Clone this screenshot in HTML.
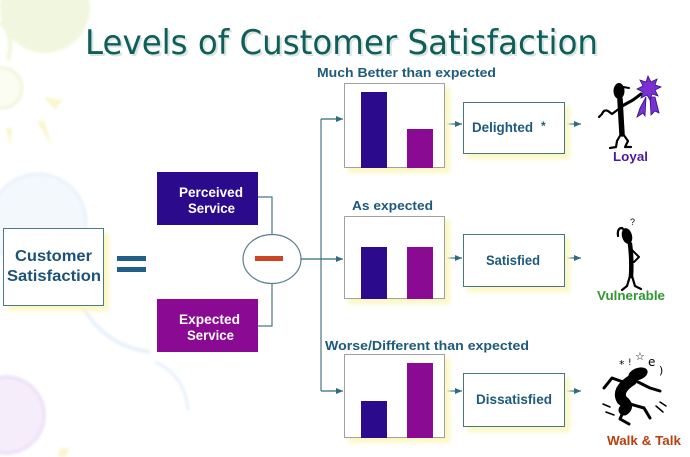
<!DOCTYPE html>
<html><head><meta charset="utf-8">
<style>html,body{margin:0;padding:0;background:#fff;}svg{display:block;}</style>
</head><body>
<svg width="690" height="457" viewBox="0 0 690 457" xmlns="http://www.w3.org/2000/svg">
<defs>
<filter id="bl" x="-20%" y="-20%" width="140%" height="140%"><feGaussianBlur stdDeviation="2.2"/></filter>
<filter id="bg" x="-30%" y="-30%" width="160%" height="160%"><feGaussianBlur stdDeviation="1.2"/></filter>
<marker id="ar" markerWidth="8" markerHeight="8" refX="7" refY="4" orient="auto" markerUnits="userSpaceOnUse"><path d="M0,1 L7,4 L0,7 z" fill="#2f6b80"/></marker>
</defs>
<rect width="690" height="457" fill="#ffffff"/>

<!-- background decorations -->
<g filter="url(#bg)">
<circle cx="45" cy="8" r="45" fill="#f1f7de"/>
<circle cx="2" cy="88" r="20" fill="#fbfdf3" stroke="#f0f6da" stroke-width="3"/>
<path d="M0,22 Q15,35 8,60" fill="none" stroke="#f0f6dc" stroke-width="4"/>
<polygon points="44,97 62,100 55,110" fill="#faf6cc"/>
<polygon points="6,128 12,128 10,147" fill="#faf6ce"/>
<polygon points="37,122 44,120 52,146" fill="#faf6ce"/>
<circle cx="38" cy="222" r="48" fill="#f3f8fd" stroke="#e9f2fb" stroke-width="3"/>
<path d="M80,300 Q100,345 150,352" fill="none" stroke="#e8f1fa" stroke-width="4"/>
<path d="M155,362 Q185,375 188,410" fill="none" stroke="#e8f1fa" stroke-width="3"/>
<circle cx="6" cy="415" r="38" fill="#f6edfb" stroke="#efe3f8" stroke-width="4"/>
<polygon points="60,448 70,448 66,457 58,457" fill="#faf6d2"/>
</g>

<!-- title -->
<text x="87" y="56" font-family="DejaVu Sans, Verdana, sans-serif" font-size="34" fill="#d9e5e3" textLength="513" lengthAdjust="spacingAndGlyphs">Levels of Customer Satisfaction</text>
<text x="85" y="54" font-family="DejaVu Sans, Verdana, sans-serif" font-size="34" fill="#0f5e59" textLength="513" lengthAdjust="spacingAndGlyphs">Levels of Customer Satisfaction</text>

<!-- Customer Satisfaction box -->
<rect x="8" y="233" width="101" height="78" fill="#fbf7c4" filter="url(#bl)"/>
<rect x="3.5" y="228.5" width="100" height="77" fill="#ffffff" stroke="#4f7888" stroke-width="1"/>
<g font-family="Liberation Sans, Arial, sans-serif" font-weight="bold" fill="#1b5276" font-size="16">
<text x="15" y="261" textLength="77" lengthAdjust="spacingAndGlyphs">Customer</text>
<text x="7" y="281" textLength="94" lengthAdjust="spacingAndGlyphs">Satisfaction</text>
</g>

<!-- equals -->
<rect x="117" y="256" width="29" height="5" fill="#1f5f88"/>
<rect x="117" y="267" width="29" height="5" fill="#1f5f88"/>

<!-- Perceived / Expected boxes -->
<rect x="157" y="172" width="101" height="53" fill="#2c0a8c"/>
<rect x="157" y="299" width="101" height="53" fill="#8b0a94"/>
<g font-family="Liberation Sans, Arial, sans-serif" font-weight="bold" fill="#ffffff" font-size="14">
<text x="179" y="197" textLength="64" lengthAdjust="spacingAndGlyphs">Perceived</text>
<text x="188" y="213" textLength="47" lengthAdjust="spacingAndGlyphs">Service</text>
<text x="179" y="324" textLength="61" lengthAdjust="spacingAndGlyphs">Expected</text>
<text x="187" y="340" textLength="47" lengthAdjust="spacingAndGlyphs">Service</text>
</g>

<!-- connectors -->
<g fill="none" stroke="#4d7584" stroke-width="1.2">
<polyline points="258,197 272,197 272,235"/>
<polyline points="258,326 272,326 272,283"/>
<line x1="321" y1="119" x2="321" y2="391"/>
</g>
<ellipse cx="272" cy="259" rx="29" ry="24.5" fill="#ffffff" stroke="#5a7f8c" stroke-width="1.2"/>
<rect x="255" y="256" width="28" height="5" fill="#cc4422"/>
<g fill="none" stroke="#2f6b80" stroke-width="1.2" marker-end="url(#ar)">
<line x1="301" y1="259" x2="343" y2="259"/>
<line x1="321" y1="119" x2="343" y2="119"/>
<line x1="321" y1="391" x2="343" y2="391"/>
<line x1="447" y1="124" x2="462" y2="124"/>
<line x1="447" y1="258" x2="462" y2="258"/>
<line x1="447" y1="391" x2="462" y2="391"/>
<line x1="567" y1="124" x2="581" y2="124"/>
<line x1="567" y1="258" x2="581" y2="258"/>
<line x1="567" y1="391" x2="581" y2="391"/>
</g>

<!-- labels -->
<g font-family="Liberation Sans, Arial, sans-serif" font-weight="bold" fill="#1d5a7c" font-size="13">
<text x="317" y="77" textLength="179" lengthAdjust="spacingAndGlyphs">Much Better than expected</text>
<text x="352" y="210" textLength="81" lengthAdjust="spacingAndGlyphs">As expected</text>
<text x="325" y="350" textLength="204" lengthAdjust="spacingAndGlyphs">Worse/Different  than expected</text>
</g>

<!-- chart boxes -->
<g>
<rect x="348" y="87" width="102" height="86" fill="#fbf7c4" filter="url(#bl)"/>
<rect x="344.5" y="83.5" width="100" height="84" fill="#ffffff" stroke="#a0a0a0"/>
<rect x="361" y="92" width="26" height="76" fill="#2c0a8c"/>
<rect x="407" y="129" width="26" height="39" fill="#8b0a94"/>

<rect x="348" y="220" width="102" height="84" fill="#fbf7c4" filter="url(#bl)"/>
<rect x="344.5" y="216.5" width="100" height="82" fill="#ffffff" stroke="#a0a0a0"/>
<rect x="361" y="247" width="26" height="52" fill="#2c0a8c"/>
<rect x="407" y="247" width="26" height="52" fill="#8b0a94"/>

<rect x="348" y="358" width="102" height="85" fill="#fbf7c4" filter="url(#bl)"/>
<rect x="344.5" y="354.5" width="100" height="83" fill="#ffffff" stroke="#a0a0a0"/>
<rect x="361" y="401" width="26" height="37" fill="#2c0a8c"/>
<rect x="407" y="363" width="26" height="75" fill="#8b0a94"/>
</g>

<!-- result boxes -->
<g>
<rect x="467" y="106" width="103" height="53" fill="#fbf7c4" filter="url(#bl)"/>
<rect x="463.5" y="102.5" width="101" height="51" fill="#ffffff" stroke="#4a7585"/>
<rect x="467" y="238" width="103" height="54" fill="#fbf7c4" filter="url(#bl)"/>
<rect x="463.5" y="234.5" width="101" height="52" fill="#ffffff" stroke="#4a7585"/>
<rect x="467" y="377" width="103" height="55" fill="#fbf7c4" filter="url(#bl)"/>
<rect x="463.5" y="373.5" width="101" height="53" fill="#ffffff" stroke="#4a7585"/>
</g>
<g font-family="Liberation Sans, Arial, sans-serif" font-weight="bold" fill="#1d5a7c" font-size="14">
<text x="472" y="132" textLength="61" lengthAdjust="spacingAndGlyphs">Delighted</text>
<text x="541" y="130" font-size="12">*</text>
<text x="486" y="265" textLength="54" lengthAdjust="spacingAndGlyphs">Satisfied</text>
<text x="476" y="404" textLength="76" lengthAdjust="spacingAndGlyphs">Dissatisfied</text>
</g>

<!-- figure labels -->
<g font-family="Liberation Sans, Arial, sans-serif" font-weight="bold" font-size="13">
<text x="613" y="161" fill="#4b1a9a" textLength="35" lengthAdjust="spacingAndGlyphs">Loyal</text>
<text x="597" y="300" fill="#2e9a2e" textLength="68" lengthAdjust="spacingAndGlyphs">Vulnerable</text>
<text x="607" y="445" fill="#b8400f" textLength="74" lengthAdjust="spacingAndGlyphs">Walk &amp; Talk</text>
</g>

<!-- Loyal figure -->
<g stroke="#000" fill="none" stroke-linecap="round" stroke-linejoin="round">
<ellipse cx="619" cy="91" rx="5.5" ry="8" fill="#000" stroke="none"/>
<line x1="623" y1="87" x2="629" y2="88" stroke-width="2"/>
<path d="M620,99 Q621,118 622,134" stroke-width="5.5"/>
<path d="M622,106 L633,100 L641,94" stroke-width="3"/>
<path d="M620,108 L612,114 L608,111 Q604,109 602,114 L599,117" stroke-width="2.2"/>
<path d="M621,134 L617,141 L616,147 L610,148" stroke-width="2.2"/>
<path d="M623,134 L628,141 L625,147 L631,147" stroke-width="2.2"/>
</g>
<g>
<polygon points="640,108 637,117 643,113 645,116 646,97" fill="#7a30d4" stroke="#30107a" stroke-width="0.8"/>
<polygon points="650,97 651,115 655,111 659,113 655,97" fill="#7a30d4" stroke="#30107a" stroke-width="0.8"/>
<polygon points="648,76 651,82 657,79 655,85 661,87 655,90 658,96 652,94 650,100 647,95 641,98 643,92 637,89 643,86 640,80 646,82" fill="#7a30d4" stroke="#30107a" stroke-width="0.8"/>
</g>

<!-- Vulnerable figure -->
<g stroke="#000" fill="none" stroke-linecap="round" stroke-linejoin="round">
<ellipse cx="627" cy="236" rx="5" ry="8" fill="#000" stroke="none" transform="rotate(-15 627 236)"/>
<path d="M630,244 Q627,232 622,228 Q617,228 618,236" stroke-width="2.2"/>
<path d="M630,244 Q632,260 631,276" stroke-width="4.5"/>
<path d="M632,250 L639,257 L634,262" stroke-width="2"/>
<path d="M630,276 L627,286 L622,290" stroke-width="2.2"/>
<path d="M632,276 L635,286 L641,289" stroke-width="2.2"/>
</g>
<text x="630" y="225" font-family="Liberation Sans, Arial, sans-serif" font-size="9" fill="#000">?</text>

<!-- Walk & Talk figure -->
<g stroke="#000" fill="none" stroke-linecap="round" stroke-linejoin="round">
<ellipse cx="638" cy="374" rx="10" ry="6" fill="#000" stroke="none" transform="rotate(-20 638 374)"/>
<path d="M632,380 Q616,390 622,400 Q630,406 624,410" stroke-width="11"/>
<path d="M626,383 L612,378 L604,388" stroke-width="3"/>
<path d="M638,382 L650,388 L660,391" stroke-width="3"/>
<path d="M624,410 L620,419 L629,424" stroke-width="3"/>
<path d="M630,404 L644,408 L650,418" stroke-width="3"/>
<path d="M603,404 L610,407 M606,412 L614,415 M656,406 L663,412 M660,402 L666,406" stroke-width="1.5"/>
</g>
<g font-family="DejaVu Sans, sans-serif" fill="#000">
<text x="619" y="368" font-size="11">*</text>
<text x="628" y="365" font-size="9">!</text>
<text x="635" y="360" font-size="11">☆</text>
<text x="648" y="366" font-size="12">e</text>
<text x="659" y="374" font-size="11">)</text>
</g>
</svg>
</body></html>
